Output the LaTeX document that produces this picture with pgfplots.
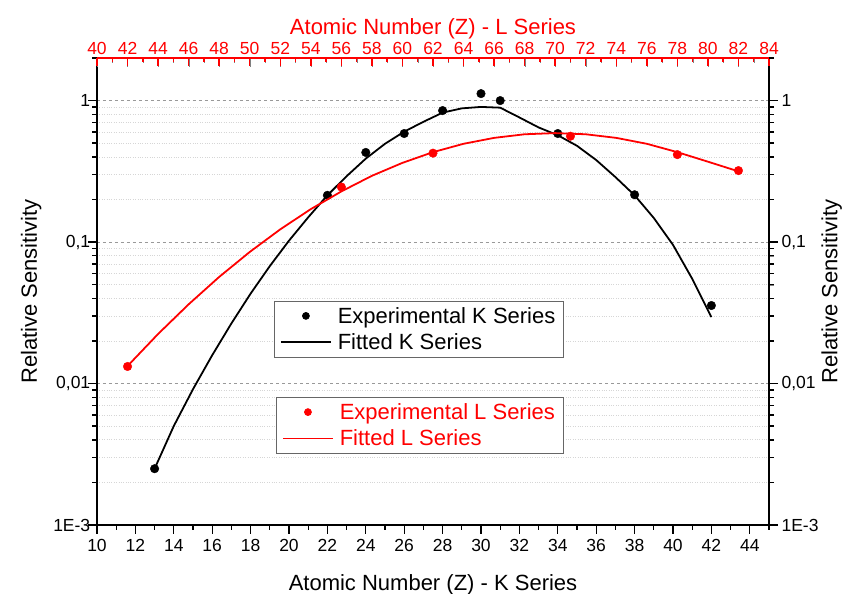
\documentclass[border=0pt]{standalone}
\usepackage{fontspec}
\setmainfont{Liberation Sans}
\usepackage{pgfplots}
\pgfplotsset{compat=1.18}

\pgfplotstableread{
x y
13 0.0025
22 0.214
24 0.43
26 0.585
28 0.85
30 1.12
31 1.0
34 0.585
38 0.216
42 0.0356
}\expK

\pgfplotstableread{
x y
13 0.0025
14 0.00501
15 0.00912
16 0.01585
17 0.0266
18 0.0432
19 0.0676
20 0.1023
21 0.1496
22 0.214
23 0.292
24 0.389
25 0.495
26 0.603
27 0.708
28 0.822
29 0.881
30 0.902
31 0.891
32 0.76
33 0.646
34 0.569
35 0.479
36 0.38
37 0.288
38 0.214
39 0.148
40 0.0955
41 0.055
42 0.0295
}\fitK

\pgfplotstableread{
x y
42 0.0132
56 0.245
62 0.425
71 0.56
78 0.415
82 0.32
}\expL

\pgfplotstableread{
x y
42 0.0133
44 0.0224
46 0.0363
48 0.0567
50 0.0851
52 0.123
54 0.171
56 0.228
58 0.294
60 0.363
62 0.432
64 0.495
66 0.545
68 0.578
70 0.589
72 0.578
74 0.545
76 0.495
78 0.432
80 0.37
82 0.316
}\fitL

\pgfplotsset{
  /pgf/number format/assume math mode=true,
  dotlegend/.style={legend image code/.code={\draw[mark repeat=2,mark phase=2,##1,mark size=3.5pt] plot coordinates {(0cm,0cm) (0.88cm,0cm) (1.76cm,0cm)};}},
  linelegend/.style={legend image code/.code={\draw[##1,line width=1.8pt] plot coordinates {(0cm,0cm) (1.76cm,0cm)};}},
}

\begin{document}
\begin{tikzpicture}
\begin{axis}[
  at={(0,0)}, anchor=south west,
  scale only axis, width=672bp, height=467bp,
  clip=false, unbounded coords=jump,
  xmin=10, xmax=45,
  ymode=log, ymin=1e-3, ymax=2,
  xtick pos=left, ytick pos=left,
  axis line style={line width=1.8pt},
  tick align=outside,
  xtick={10,12,...,44}, minor xtick={11,13,...,45},
  ytick={0.001,0.01,0.1,1},
  yticklabels={1E-3,{0,01},{0,1},1},
  minor ytick={0.002,0.003,0.004,0.005,0.006,0.007,0.008,0.009,0.02,0.03,0.04,0.05,0.06,0.07,0.08,0.09,0.2,0.3,0.4,0.5,0.6,0.7,0.8,0.9,2},
  tick style={black, line width=1.4pt},
  tick label style={font=\fontsize{17.5bp}{20bp}\selectfont},
  xticklabel style={yshift=-7bp},
  yticklabel style={xshift=1bp},
  label style={font=\fontsize{22bp}{26bp}\selectfont},
  xlabel style={yshift=-16bp},
  ylabel style={yshift=5bp},
  ymajorgrids, yminorgrids,
  major grid style={dashed, black!40, line width=0.7pt},
  minor grid style={dotted, black!16, line width=0.7pt},
  xlabel={Atomic Number (Z) - K Series},
  ylabel={Relative Sensitivity},
  legend cell align=left,
  legend style={draw=black!60, line width=0.7pt, fill=white,
    font=\fontsize{22bp}{26bp}\selectfont,
    inner xsep=6bp, inner ysep=4bp, row sep=5bp, column sep=4bp,
    at={(axis description cs:0.263,0.480)}, anchor=north west},
]
\addplot[only marks, mark=*, mark size=4.3pt, black, dotlegend] table {\expK};
\addlegendentry{Experimental K Series}
\addplot[black, line width=1.8pt, no marks, linelegend] table {\fitK};
\addlegendentry{Fitted K Series}
% bottom axis major ticks
\addplot[black, line width=1.4pt, no marks, forget plot] coordinates {
(10,0.001) (10,0.000864) (10,nan) (12,0.001) (12,0.000864) (12,nan)
(14,0.001) (14,0.000864) (14,nan) (16,0.001) (16,0.000864) (16,nan)
(18,0.001) (18,0.000864) (18,nan) (20,0.001) (20,0.000864) (20,nan)
(22,0.001) (22,0.000864) (22,nan) (24,0.001) (24,0.000864) (24,nan)
(26,0.001) (26,0.000864) (26,nan) (28,0.001) (28,0.000864) (28,nan)
(30,0.001) (30,0.000864) (30,nan) (32,0.001) (32,0.000864) (32,nan)
(34,0.001) (34,0.000864) (34,nan) (36,0.001) (36,0.000864) (36,nan)
(38,0.001) (38,0.000864) (38,nan) (40,0.001) (40,0.000864) (40,nan)
(42,0.001) (42,0.000864) (42,nan) (44,0.001) (44,0.000864)
};
% bottom axis minor ticks
\addplot[black, line width=1.4pt, no marks, forget plot] coordinates {
(11,0.001) (11,0.000922) (11,nan) (13,0.001) (13,0.000922) (13,nan)
(15,0.001) (15,0.000922) (15,nan) (17,0.001) (17,0.000922) (17,nan)
(19,0.001) (19,0.000922) (19,nan) (21,0.001) (21,0.000922) (21,nan)
(23,0.001) (23,0.000922) (23,nan) (25,0.001) (25,0.000922) (25,nan)
(27,0.001) (27,0.000922) (27,nan) (29,0.001) (29,0.000922) (29,nan)
(31,0.001) (31,0.000922) (31,nan) (33,0.001) (33,0.000922) (33,nan)
(35,0.001) (35,0.000922) (35,nan) (37,0.001) (37,0.000922) (37,nan)
(39,0.001) (39,0.000922) (39,nan) (41,0.001) (41,0.000922) (41,nan)
(43,0.001) (43,0.000922) (43,nan) (45,0.001) (45,0.000922)
};
% left axis major ticks
\addplot[black, line width=1.4pt, no marks, forget plot] coordinates {
(10,0.001) (9.53,0.001) (nan,0.001) (10,0.01) (9.53,0.01) (nan,0.01)
(10,0.1) (9.53,0.1) (nan,0.1) (10,1) (9.53,1)
};
% left axis minor ticks
\addplot[black, line width=1.4pt, no marks, forget plot] coordinates {
(10,0.002) (9.74,0.002) (nan,0) (10,0.003) (9.74,0.003) (nan,0) (10,0.004) (9.74,0.004) (nan,0)
(10,0.005) (9.74,0.005) (nan,0) (10,0.006) (9.74,0.006) (nan,0) (10,0.007) (9.74,0.007) (nan,0)
(10,0.008) (9.74,0.008) (nan,0) (10,0.009) (9.74,0.009) (nan,0)
(10,0.02) (9.74,0.02) (nan,0) (10,0.03) (9.74,0.03) (nan,0) (10,0.04) (9.74,0.04) (nan,0)
(10,0.05) (9.74,0.05) (nan,0) (10,0.06) (9.74,0.06) (nan,0) (10,0.07) (9.74,0.07) (nan,0)
(10,0.08) (9.74,0.08) (nan,0) (10,0.09) (9.74,0.09) (nan,0)
(10,0.2) (9.74,0.2) (nan,0) (10,0.3) (9.74,0.3) (nan,0) (10,0.4) (9.74,0.4) (nan,0)
(10,0.5) (9.74,0.5) (nan,0) (10,0.6) (9.74,0.6) (nan,0) (10,0.7) (9.74,0.7) (nan,0)
(10,0.8) (9.74,0.8) (nan,0) (10,0.9) (9.74,0.9) (nan,0) (10,2) (9.74,2)
};
\end{axis}
\begin{axis}[
  at={(0,0)}, anchor=south west,
  scale only axis, width=672bp, height=467bp,
  clip=false, unbounded coords=jump,
  xmin=40, xmax=84,
  ymode=log, ymin=1e-3, ymax=2,
  axis x line*=top, axis y line*=right,
  axis line style={line width=1.8pt,-},
  x axis line style={red},
  xtick align=inside, ytick align=outside,
  xtick={40,42,...,84}, minor xtick={41,43,...,83},
  ytick={0.001,0.01,0.1,1},
  yticklabels={1E-3,{0,01},{0,1},1},
  minor ytick={0.002,0.003,0.004,0.005,0.006,0.007,0.008,0.009,0.02,0.03,0.04,0.05,0.06,0.07,0.08,0.09,0.2,0.3,0.4,0.5,0.6,0.7,0.8,0.9,2},
  major tick length=9bp, minor tick length=5bp,
  tick label style={font=\fontsize{17.5bp}{20bp}\selectfont},
  x tick label style={red},
  label style={font=\fontsize{22bp}{26bp}\selectfont},
  xlabel style={red, yshift=-4bp},
  ylabel style={yshift=4bp},
  xlabel={Atomic Number (Z) - L Series},
  ylabel={Relative Sensitivity},
  legend cell align=left,
  legend style={draw=black!60, line width=0.7pt, fill=white, text=red,
    font=\fontsize{22bp}{26bp}\selectfont,
    inner xsep=6bp, inner ysep=4bp, row sep=5bp, column sep=4bp,
    at={(axis description cs:0.266,0.274)}, anchor=north west},
]
\addplot[only marks, mark=*, mark size=4.3pt, red, dotlegend] table {\expL};
\addlegendentry{Experimental L Series}
\addplot[red, line width=1.8pt, no marks, linelegend] table {\fitL};
\addlegendentry{Fitted L Series}
% top axis major ticks (inside)
\addplot[red, line width=1.4pt, no marks, forget plot] coordinates {
(40,2) (40,1.76) (40,nan) (42,2) (42,1.76) (42,nan) (44,2) (44,1.76) (44,nan)
(46,2) (46,1.76) (46,nan) (48,2) (48,1.76) (48,nan) (50,2) (50,1.76) (50,nan)
(52,2) (52,1.76) (52,nan) (54,2) (54,1.76) (54,nan) (56,2) (56,1.76) (56,nan)
(58,2) (58,1.76) (58,nan) (60,2) (60,1.76) (60,nan) (62,2) (62,1.76) (62,nan)
(64,2) (64,1.76) (64,nan) (66,2) (66,1.76) (66,nan) (68,2) (68,1.76) (68,nan)
(70,2) (70,1.76) (70,nan) (72,2) (72,1.76) (72,nan) (74,2) (74,1.76) (74,nan)
(76,2) (76,1.76) (76,nan) (78,2) (78,1.76) (78,nan) (80,2) (80,1.76) (80,nan)
(82,2) (82,1.76) (82,nan) (84,2) (84,1.76)
};
% top axis minor ticks (inside)
\addplot[red, line width=1.4pt, no marks, forget plot] coordinates {
(41,2) (41,1.86) (41,nan) (43,2) (43,1.86) (43,nan) (45,2) (45,1.86) (45,nan)
(47,2) (47,1.86) (47,nan) (49,2) (49,1.86) (49,nan) (51,2) (51,1.86) (51,nan)
(53,2) (53,1.86) (53,nan) (55,2) (55,1.86) (55,nan) (57,2) (57,1.86) (57,nan)
(59,2) (59,1.86) (59,nan) (61,2) (61,1.86) (61,nan) (63,2) (63,1.86) (63,nan)
(65,2) (65,1.86) (65,nan) (67,2) (67,1.86) (67,nan) (69,2) (69,1.86) (69,nan)
(71,2) (71,1.86) (71,nan) (73,2) (73,1.86) (73,nan) (75,2) (75,1.86) (75,nan)
(77,2) (77,1.86) (77,nan) (79,2) (79,1.86) (79,nan) (81,2) (81,1.86) (81,nan)
(83,2) (83,1.86)
};
% right axis major ticks
\addplot[black, line width=1.4pt, no marks, forget plot] coordinates {
(84,0.001) (84.59,0.001) (nan,0.001) (84,0.01) (84.59,0.01) (nan,0.01)
(84,0.1) (84.59,0.1) (nan,0.1) (84,1) (84.59,1)
};
% right axis minor ticks
\addplot[black, line width=1.4pt, no marks, forget plot] coordinates {
(84,0.002) (84.33,0.002) (nan,0) (84,0.003) (84.33,0.003) (nan,0) (84,0.004) (84.33,0.004) (nan,0)
(84,0.005) (84.33,0.005) (nan,0) (84,0.006) (84.33,0.006) (nan,0) (84,0.007) (84.33,0.007) (nan,0)
(84,0.008) (84.33,0.008) (nan,0) (84,0.009) (84.33,0.009) (nan,0)
(84,0.02) (84.33,0.02) (nan,0) (84,0.03) (84.33,0.03) (nan,0) (84,0.04) (84.33,0.04) (nan,0)
(84,0.05) (84.33,0.05) (nan,0) (84,0.06) (84.33,0.06) (nan,0) (84,0.07) (84.33,0.07) (nan,0)
(84,0.08) (84.33,0.08) (nan,0) (84,0.09) (84.33,0.09) (nan,0)
(84,0.2) (84.33,0.2) (nan,0) (84,0.3) (84.33,0.3) (nan,0) (84,0.4) (84.33,0.4) (nan,0)
(84,0.5) (84.33,0.5) (nan,0) (84,0.6) (84.33,0.6) (nan,0) (84,0.7) (84.33,0.7) (nan,0)
(84,0.8) (84.33,0.8) (nan,0) (84,0.9) (84.33,0.9) (nan,0) (84,2) (84.33,2)
};
\end{axis}
\pgfresetboundingbox
\useasboundingbox (-97bp,-69bp) rectangle (747bp,525bp);
\end{tikzpicture}
\end{document}
